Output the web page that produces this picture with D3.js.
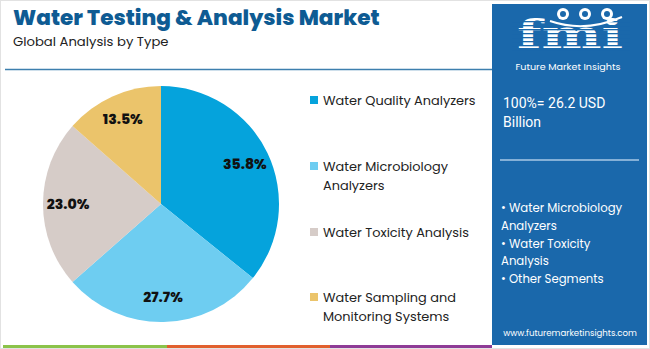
<!DOCTYPE html>
<html><head><meta charset="utf-8">
<script src="https://cdn.jsdelivr.net/npm/d3@7"></script>
<style>body{margin:0;background:#fff}svg{display:block}</style>
</head><body>
<svg id="c" width="650" height="349"></svg>
<script>
const categories = ["Water Quality Analyzers", "Water Microbiology Analyzers", "Water Toxicity Analysis", "Water Sampling and Monitoring Systems"];
const legendLines = [["Water Quality Analyzers"], ["Water Microbiology", "Analyzers"], ["Water Toxicity Analysis"], ["Water Sampling and", "Monitoring Systems"]];
const values = [35.8, 27.7, 23.0, 13.5];
const labels = ["35.8%", "27.7%", "23.0%", "13.5%"];
const colors = ["#05a3dc", "#6ecdf1", "#d6ccc8", "#ebc46b"];
const title = "Water Testing & Analysis Market";
const subtitle = "Global Analysis by Type";
const totalText = ["100%= 26.2 USD", "Billion"];
const bulletLines = ["• Water Microbiology", "Analyzers", "• Water Toxicity", "Analysis", "• Other Segments"];
const website = "www.futuremarketinsights.com";

const svg = d3.select("#c");
const font = "Poppins, Lato, 'Open Sans', sans-serif";
const panel = "#1a68ab";

svg.append("rect").attr("x",0.5).attr("y",0.5).attr("width",649).attr("height",348).attr("fill","none").attr("stroke","#e2e2e2");

svg.append("text").attr("x",13).attr("y",25).attr("font-family",font).attr("font-weight",800)
  .attr("font-size",21.6).attr("fill","#0e5b93").text(title);
svg.append("text").attr("x",13).attr("y",46).attr("font-family",font)
  .attr("font-size",13.2).attr("fill","#222").text(subtitle);
svg.append("line").attr("x1",5).attr("x2",492).attr("y1",69.5).attr("y2",69.5).attr("stroke","#3d7fae").attr("stroke-width",1.5);

// bottom stripes
[["#8bc34a",3,167],["#e1602e",167,330],["#8e3b96",330,492]].forEach(([c,a,b])=>{
  svg.append("rect").attr("x",a).attr("y",345).attr("width",b-a).attr("height",3).attr("fill",c);
});

// pie
const cx = 161, cy = 204, R = 118;
const pie = d3.pie().sort(null).value(d=>d)(values);
const arc = d3.arc().innerRadius(0).outerRadius(R);
const labelArc = d3.arc().innerRadius(93).outerRadius(93);
const g = svg.append("g").attr("transform",`translate(${cx},${cy})`);
g.selectAll("path").data(pie).join("path").attr("d",arc).attr("fill",(d,i)=>colors[i]);
g.selectAll("text").data(pie).join("text")
  .attr("transform",d=>`translate(${labelArc.centroid(d)})`)
  .attr("text-anchor","middle").attr("dy","0.35em")
  .attr("font-family",font).attr("font-weight",800).attr("font-size",14).attr("fill","#111")
  .text((d,i)=>labels[i]);

// legend
const legY = [100, 166, 232, 297];
const lg = svg.append("g");
legendLines.forEach((lines,i)=>{
  lg.append("rect").attr("x",310).attr("y",legY[i]-4).attr("width",8).attr("height",8).attr("fill",colors[i]);
  lines.forEach((t,j)=>{
    lg.append("text").attr("x",323).attr("y",legY[i]+j*19).attr("dy","0.35em")
      .attr("font-family",font).attr("font-size",12.9).attr("fill","#222").text(t);
  });
});

// right panel
svg.append("rect").attr("x",492).attr("y",4).attr("width",155).attr("height",341).attr("fill",panel);
// logo
const logo = svg.append("g");
logo.append("text").attr("x",517).attr("y",48).attr("font-family","'DejaVu Serif', serif").attr("font-weight",700)
  .attr("font-size",40).attr("fill","#fff").attr("textLength",106).attr("lengthAdjust","spacingAndGlyphs").text("fmi");
for(let y=21;y<50;y+=4){
  logo.append("rect").attr("x",512).attr("y",y).attr("width",118).attr("height",1.3).attr("fill",panel);
}
[[563,14],[585,14],[607,14]].forEach(([x,y])=>{
  logo.append("circle").attr("cx",x).attr("cy",y).attr("r",6).attr("fill","#fff");
  logo.append("circle").attr("cx",x).attr("cy",y).attr("r",3).attr("fill",panel);
});
logo.append("path").attr("d","M550,21 Q585,33 622,17").attr("fill","none").attr("stroke","#fff").attr("stroke-width",2);
logo.append("text").attr("x",568).attr("y",69.5).attr("text-anchor","middle").attr("font-family",font)
  .attr("font-size",9.6).attr("fill","#fff").text("Future Market Insights");

totalText.forEach((t,i)=>{
  svg.append("text").attr("x",503).attr("y",103+i*19).attr("dy","0.35em").attr("font-family","Roboto, sans-serif")
    .attr("font-size",14).attr("fill","#fff").text(t);
});
svg.append("line").attr("x1",500).attr("x2",639).attr("y1",160).attr("y2",160).attr("stroke","#a9c8e6").attr("stroke-width",1.5);
bulletLines.forEach((t,i)=>{
  svg.append("text").attr("x",501).attr("y",208+i*17.8).attr("dy","0.35em").attr("font-family",font)
    .attr("font-size",11.7).attr("fill","#fff").text(t);
});
svg.append("text").attr("x",570).attr("y",333).attr("dy","0.35em").attr("text-anchor","middle").attr("font-family",font)
  .attr("font-size",8.6).attr("fill","#fff").text(website);
</script>
</body></html>
